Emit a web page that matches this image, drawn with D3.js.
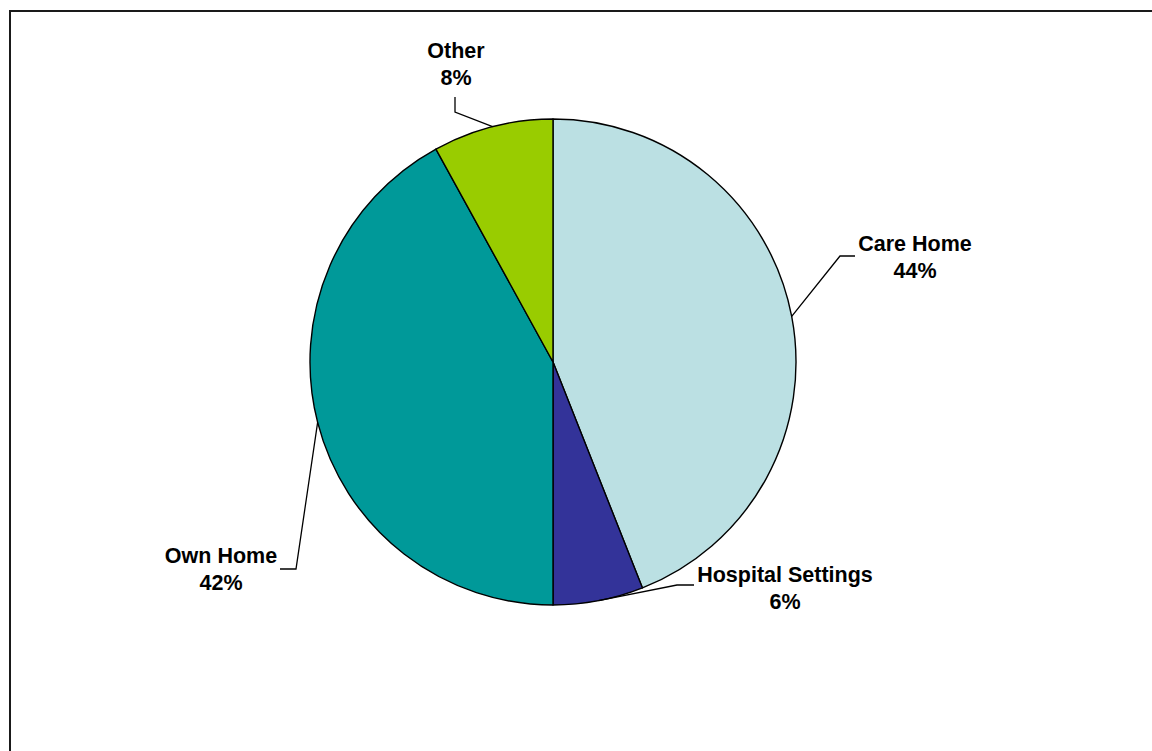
<!DOCTYPE html>
<html>
<head>
<meta charset="utf-8">
<script src="https://cdn.jsdelivr.net/npm/d3@7"></script>
<style>
  html, body { margin: 0; padding: 0; background: #fff; }
  svg { display: block; }
  text { font-family: "Liberation Sans", Arial, Helvetica, sans-serif; font-weight: bold; font-size: 21.5px; fill: #000; }
</style>
</head>
<body>
<script>
// Place of death breakdown (percent)
const categories = ["Care Home", "Hospital Settings", "Own Home", "Other"];
const values = [44, 6, 42, 8];
const colors = ["#BBE0E3", "#333399", "#009999", "#99CC00"];

const W = 1152, H = 751;
const cx = 553, cy = 362, R = 243;

// Label placement relative to the pie centre: text anchor, first baseline,
// elbow of the leader line and its end next to the text.
const labelLayout = [
  { tx: 362, ty: -111, ex: 287, ey: -106, hx: 302, hy: -106 },
  { tx: 232, ty: 220,  ex: 124, ey: 223,  hx: 141, hy: 223 },
  { tx: -332, ty: 201, ex: -257, ey: 207, hx: -273, hy: 207 },
  { tx: -97, ty: -304, ex: -98, ey: -250, hx: -98, hy: -265 }
];

const svg = d3.select("body").append("svg")
  .attr("width", W).attr("height", H);

// chart-area frame (right and bottom edges fall outside the view)
svg.append("rect")
  .attr("x", 10).attr("y", 11)
  .attr("width", W + 20).attr("height", H + 20)
  .attr("fill", "none").attr("stroke", "#1a1a1a").attr("stroke-width", 2);

const pie = d3.pie().sort(null).value(d => d.value);
const data = categories.map((c, i) => ({ name: c, value: values[i], color: colors[i] }));
const arcs = pie(data);
const total = d3.sum(values);

const arc = d3.arc().innerRadius(0).outerRadius(R);

const g = svg.append("g").attr("transform", `translate(${cx},${cy})`);

g.selectAll("path.slice")
  .data(arcs)
  .join("path")
  .attr("class", "slice")
  .attr("d", arc)
  .attr("fill", d => d.data.color)
  .attr("stroke", "#000")
  .attr("stroke-width", 1.4)
  .attr("stroke-linejoin", "round");

// leader lines from the arc midpoint on the rim
g.selectAll("polyline.leader")
  .data(arcs)
  .join("polyline")
  .attr("class", "leader")
  .attr("fill", "none")
  .attr("stroke", "#000")
  .attr("stroke-width", 1.3)
  .attr("points", (d, i) => {
    const mid = (d.startAngle + d.endAngle) / 2;
    const p = [Math.sin(mid) * R, -Math.cos(mid) * R];
    const L = labelLayout[i];
    return [p, [L.ex, L.ey], [L.hx, L.hy]].map(q => q.join(",")).join(" ");
  });

const fmt = d3.format(".0%");
const labels = g.selectAll("text.lbl")
  .data(arcs)
  .join("text")
  .attr("class", "lbl")
  .attr("text-anchor", "middle")
  .attr("x", (d, i) => labelLayout[i].tx)
  .attr("y", (d, i) => labelLayout[i].ty);

labels.append("tspan")
  .attr("x", (d, i) => labelLayout[i].tx)
  .text(d => d.data.name);
labels.append("tspan")
  .attr("x", (d, i) => labelLayout[i].tx)
  .attr("dy", 27)
  .text(d => fmt(d.data.value / total));
</script>
</body>
</html>
